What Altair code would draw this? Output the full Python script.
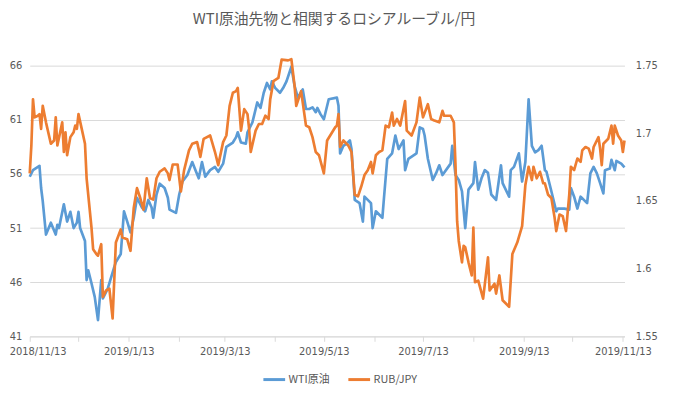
import altair as alt
import pandas as pd

# Days since 2018/11/13 and values
wti_days = [0,2,6,7,8,10,13,16,17,18,21,23,25,27,29,30,31,34,35,36,38,40,42,44,45,48,52,53,56,58,60,62,64,66,69,71,73,75,76,78,80,83,85,86,90,92,94,97,100,102,104,106,108,111,114,116,119,121,125,127,128,130,133,134,137,140,142,144,146,148,149,151,154,156,158,161,163,165,168,170,172,174,176,177,179,181,184,189,190,191,193,195,197,198,200,203,205,206,210,211,213,217,218,220,223,225,227,230,231,233,238,240,242,243,245,248,250,252,254,259,260,262,264,266,268,270,273,274,276,278,280,282,284,287,290,291,295,296,298,301,303,305,307,309,311,313,315,317,318,321,324,325,329,332,333,335,337,339,341,343,345,347,349,351,353,354,357,358,360,361,364,366]
wti_vals = [55.74,56.35,56.75,54.7,53.5,50.4,51.5,50.4,51.3,51.0,53.2,51.6,52.5,51.0,51.5,52.5,51.0,49.8,46.2,47.1,45.9,44.65,42.5,46.2,44.5,45.4,47.4,47.85,48.6,52.55,51.6,50.6,51.95,53.8,52.9,52.55,53.6,52.9,51.95,54.1,55.1,54.7,53.8,52.7,52.4,54.1,55.3,55.9,57.1,56.35,55.6,57.1,55.75,56.35,56.65,56.2,56.95,58.5,58.9,59.4,59.85,58.9,58.8,59.85,60.75,62.6,62.1,63.5,64.4,63.8,64.55,63.95,63.5,63.95,64.55,65.9,64.1,63.05,63.8,62.0,62.0,62.15,61.7,62.1,61.5,61.05,62.9,63.05,62.3,57.9,58.6,58.8,59.1,58.3,53.6,53.3,51.6,53.9,53.3,51.0,52.55,51.95,53.8,57.4,57.9,59.55,58.3,59.1,56.35,57.4,57.9,60.3,60.15,59.55,57.4,55.45,56.05,56.8,55.9,56.95,58.6,55.9,55.45,54.4,51.0,54.55,55.15,57.1,54.55,55.6,56.35,56.1,54.1,53.6,56.8,55.15,53.9,56.35,56.65,57.9,55.3,57.1,62.9,58.6,58.0,58.2,58.6,56.35,56.2,54.4,52.55,52.8,52.8,52.7,54.7,53.9,52.8,53.9,53.6,53.3,56.05,56.65,56.05,55.15,54.2,56.35,56.5,57.3,56.35,57.2,56.95,56.6]

rub_days = [0,1,2,3,5,6,7,8,10,13,15,16,17,20,21,22,23,25,27,28,29,30,32,34,35,38,39,41,42,44,45,47,49,51,53,56,57,60,62,64,66,68,70,72,74,76,78,80,83,85,86,88,91,93,95,98,100,103,105,107,111,114,116,119,121,123,125,127,128,130,132,134,135,136,139,141,143,145,147,148,150,153,155,159,161,163,164,167,170,172,174,176,178,181,183,188,189,190,191,193,196,198,200,202,204,206,208,210,211,213,215,217,219,221,223,224,226,228,231,232,235,238,240,242,245,247,249,252,254,255,259,261,262,263,264,266,267,268,270,272,273,274,276,279,282,283,286,287,289,291,295,297,300,303,305,307,309,310,312,314,316,317,319,321,323,324,326,328,330,332,333,335,337,339,340,342,344,346,347,350,351,352,353,356,358,359,360,362,364,365,366]
rub_vals = [1.6704,1.691,1.7252,1.7118,1.713,1.7142,1.7033,1.7203,1.7081,1.6923,1.6947,1.7118,1.691,1.7081,1.6862,1.7008,1.6838,1.6972,1.7008,1.7057,1.7033,1.7142,1.7033,1.6923,1.6668,1.6303,1.6144,1.6108,1.6096,1.6181,1.5792,1.5840,1.5852,1.5633,1.6193,1.629,1.623,1.6217,1.6132,1.6449,1.6595,1.6522,1.6436,1.6668,1.6522,1.6510,1.6668,1.6716,1.6741,1.6704,1.6655,1.677,1.677,1.657,1.6728,1.6874,1.6923,1.6935,1.6826,1.6959,1.6984,1.6862,1.6765,1.6935,1.6984,1.7203,1.73,1.7312,1.7336,1.702,1.7179,1.7142,1.7033,1.6862,1.702,1.7069,1.7069,1.713,1.7106,1.7252,1.7385,1.7409,1.7544,1.7539,1.7548,1.7349,1.7203,1.7312,1.7057,1.7045,1.6972,1.6862,1.6838,1.6704,1.6947,1.7045,1.7057,1.7142,1.6899,1.6947,1.691,1.6862,1.6546,1.6534,1.6607,1.6692,1.6728,1.6789,1.6704,1.6838,1.6862,1.6874,1.7057,1.7045,1.7154,1.7057,1.7106,1.7057,1.7239,1.702,1.6984,1.7081,1.7264,1.7118,1.7215,1.7106,1.7094,1.7081,1.7166,1.713,1.713,1.7081,1.6765,1.6351,1.6205,1.6047,1.6169,1.6159,1.6047,1.595,1.6303,1.590,1.5912,1.5779,1.6084,1.584,1.5889,1.5816,1.595,1.5767,1.5719,1.6108,1.6193,1.6315,1.6619,1.6753,1.6655,1.6753,1.6668,1.6716,1.6631,1.6631,1.6546,1.6522,1.6376,1.6278,1.64,1.6388,1.6278,1.6546,1.6753,1.6728,1.6814,1.6789,1.6874,1.6899,1.6887,1.6814,1.6899,1.6972,1.6887,1.6765,1.6923,1.6960,1.7057,1.6923,1.7057,1.6984,1.6947,1.6862,1.6947]

series_names = ["WTI原油", "RUB/JPY"]
series_colors = ["#5b9bd5", "#ed7d31"]
left_ticks = [41, 46, 51, 56, 61, 66]
right_ticks = [1.55, 1.6, 1.65, 1.7, 1.75]
title_text = "WTI原油先物と相関するロシアルーブル/円"

start = pd.Timestamp("2018-11-13")
def to_dates(days):
    return [(start + pd.Timedelta(days=d)).strftime("%Y-%m-%d") for d in days]

wti = pd.DataFrame({"date": to_dates(wti_days), "v": wti_vals, "s": series_names[0]})
rub = pd.DataFrame({"date": to_dates(rub_days), "v": rub_vals, "s": series_names[1]})

tick_dates = [alt.DateTime(year=2018 + (10 + i) // 12, month=(10 + i) % 12 + 1, date=13, utc=True) for i in range(13)]

xenc = alt.X(
    "date:T",
    scale=alt.Scale(type="utc", domain=[alt.DateTime(year=2018, month=11, date=13, utc=True),
                                        alt.DateTime(year=2019, month=11, date=14, utc=True)], nice=False),
    axis=alt.Axis(values=tick_dates, grid=False, domain=True, domainColor="#d9d9d9",
                  tickColor="#d9d9d9", tickSize=5, labelPadding=5, labelFlush=False,
                  labelOffset={"condition": {"test": "utcyear(datum.value) == 2018 && utcmonth(datum.value) == 10",
                                             "value": 8}, "value": 0},
                  labelExpr="utcmonth(datum.value) % 2 == 1 ? '' : utcFormat(datum.value, '%Y/%-m/%-d')"),
    title=None,
)

color_enc = alt.Color(
    "s:N", scale=alt.Scale(domain=series_names, range=series_colors),
    legend=alt.Legend(orient="none", legendX=235, legendY=305, direction="horizontal",
                      title=None, symbolType="stroke", symbolSize=484,
                      symbolStrokeWidth=3, labelOffset=2, columnPadding=12,
                      labelFont="Noto Sans CJK JP", labelFontSize=11,
                      labelColor="#595959"),
)

left = alt.Chart(wti).mark_line(strokeWidth=2.7, strokeJoin="round").encode(
    x=xenc,
    y=alt.Y("v:Q", scale=alt.Scale(domain=[41, 66], nice=False, zero=False),
            axis=alt.Axis(orient="left", values=left_ticks, grid=True, gridColor="#d9d9d9",
                          domain=False, ticks=False, labelPadding=8), title=None),
    color=color_enc,
)

right = alt.Chart(rub).mark_line(strokeWidth=2.7, strokeJoin="round").encode(
    x=xenc,
    y=alt.Y("v:Q", scale=alt.Scale(domain=[1.55, 1.75], nice=False, zero=False),
            axis=alt.Axis(orient="right", values=right_ticks, format="~g", grid=False,
                          domain=False, ticks=False, labelPadding=11), title=None),
    color=color_enc,
)

chart = alt.layer(left, right).resolve_scale(y="independent").properties(
    width=602, height=274,
    autosize=alt.AutoSizeParams(type="none"),
    padding={"left": 22, "top": 56, "right": 41, "bottom": 57},
    title=alt.TitleParams(title_text, anchor="middle", offset=31, dx=7, font="Noto Sans CJK JP",
                          fontSize=15, fontWeight="normal", color="#595959"),
).configure_view(stroke=None).configure_axis(
    labelFont="DejaVu Sans", labelFontSize=10, labelColor="#595959"
)

chart.save("out.html", embed_options={"renderer": "svg", "actions": False})
